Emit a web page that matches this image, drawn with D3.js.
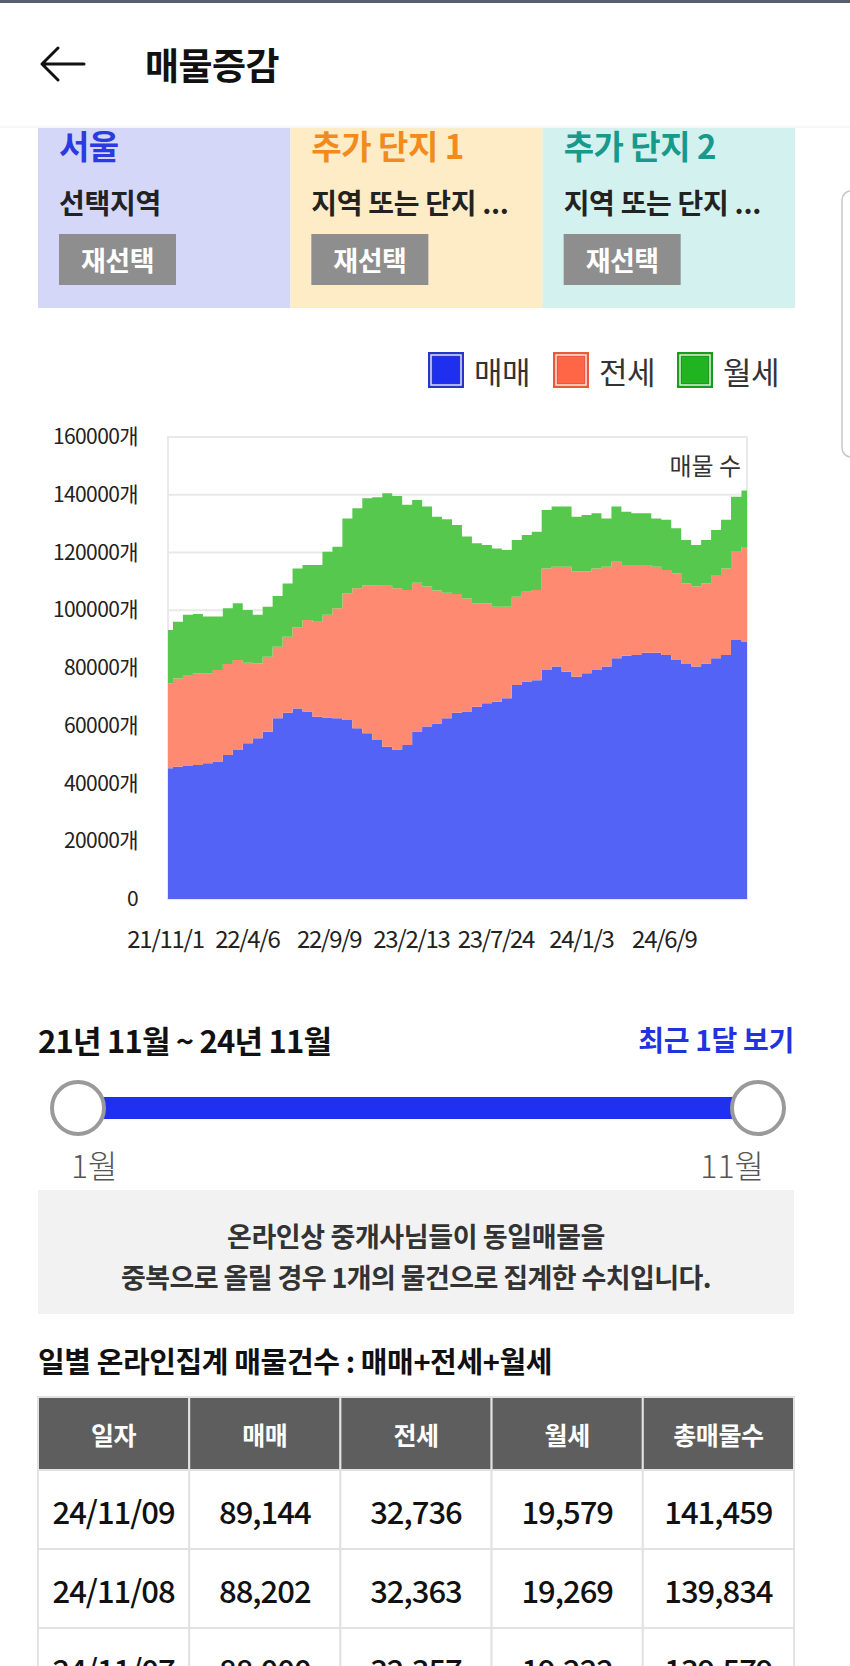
<!DOCTYPE html>
<html><head><meta charset="utf-8">
<script src="https://cdn.jsdelivr.net/npm/d3@7"></script>
<style>
html,body{margin:0;padding:0;background:#fff;overflow:hidden;}
svg{display:block;font-family:"Noto Sans CJK KR","Noto Sans",sans-serif;}
</style></head><body>
<svg id="page" width="850" height="1666"></svg>
<script>
// ---------- DATA ----------
const sampleDates = ["2021-11-01","2021-11-20","2021-12-09","2021-12-28","2022-01-16","2022-02-04","2022-02-23","2022-03-14","2022-04-02","2022-04-21",
"2022-05-10","2022-05-29","2022-06-17","2022-07-06","2022-07-25","2022-08-13","2022-09-01","2022-09-20","2022-10-09","2022-10-28",
"2022-11-16","2022-12-05","2022-12-24","2023-01-12","2023-01-31","2023-02-19","2023-03-10","2023-03-29","2023-04-17","2023-05-06",
"2023-05-25","2023-06-13","2023-07-02","2023-07-21","2023-08-09","2023-08-28","2023-09-16","2023-10-05","2023-10-24","2023-11-12",
"2023-12-01","2023-12-20","2024-01-08","2024-01-27","2024-02-15","2024-03-05","2024-03-24","2024-04-12","2024-05-01","2024-05-20",
"2024-06-08","2024-06-27","2024-07-16","2024-08-04","2024-08-23","2024-09-11","2024-09-30","2024-10-19","2024-11-09"];
const sale = [45300,45800,46100,46400,47000,47600,49900,51600,53900,55700,
57900,62600,64500,66000,64900,63100,62900,62600,62000,59100,
57400,55100,52700,51800,53300,58000,59700,60800,62600,64500,
64900,66600,67800,68300,69500,74100,75300,75800,79300,80500,
78700,77000,78200,79300,80500,83400,84200,84500,85300,85300,
84500,82800,81400,80500,81600,83400,84500,89700,89144];
const jeonse = [29400,30600,31500,31800,31200,31700,31500,31200,27900,25900,
26000,24800,26300,28100,31700,32900,35500,38100,43900,48500,
51300,53600,55800,55800,53700,51500,48500,46000,43500,41100,
39200,35800,34600,32900,31700,30600,31100,31200,35200,34600,
36400,36400,35200,35200,34600,33400,31500,31200,30400,29800,
29400,30000,27900,27700,27700,28800,30000,30600,32736];
const monthly = [18500,19600,20800,20500,19600,18500,19300,19600,18300,16800,
17300,17500,18500,20400,19100,19700,21900,21300,25900,27700,
30100,30400,32000,32000,29500,28700,27700,25600,25400,23900,
21400,20800,20200,20200,19700,19600,19700,20200,20200,20800,
20800,19000,19600,19100,16700,19100,18400,17900,17900,16700,
17400,15600,15000,14400,15000,15600,16800,19000,19579];
const seriesNames = ["매매","전세","월세"];
const yTicks = [0,20000,40000,60000,80000,100000,120000,140000,160000];
const xTickLabels = ["21/11/1","22/4/6","22/9/9","23/2/13","23/7/24","24/1/3","24/6/9"];
const regionTitles = ["서울","추가 단지 1","추가 단지 2"];
const regionSubs = ["선택지역","지역 또는 단지 ...","지역 또는 단지 ..."];
const tableHeaders = ["일자","매매","전세","월세","총매물수"];
const tableDates = ["24/11/09","24/11/08","24/11/07"];
const tableSale = [89144,88202,88000];
const tableJeonse = [32736,32363,32357];
const tableMonthly = [19579,19269,19222];

// ---------- STYLE ----------
const areaColors = ["#5263f6","#fd8a71","#56c84d"];
const legendColors = ["#1f2ff0","#ff6645","#20b420"];
const legendBorders = ["#2636c8","#e85a3c","#1c9c1c"];
const panelFills = ["#d5d7f9","#fdecc6","#d3f1ee"];
const panelTitleColors = ["#2b3be0","#f28b1e","#17998c"];

const svg = d3.select("#page");

// top status line
svg.append("rect").attr("x",0).attr("y",0).attr("width",850).attr("height",3).attr("fill","#56606e");

// header
svg.append("path").attr("d","M42,64 H84 M58,48 L42,64 L58,80")
  .attr("fill","none").attr("stroke","#111").attr("stroke-width",3).attr("stroke-linecap","round").attr("stroke-linejoin","round");
svg.append("text").attr("x",145).attr("y",64).attr("dominant-baseline","central")
  .attr("font-size",37).attr("font-weight",700).attr("letter-spacing","-0.5px").attr("fill","#111").text("매물증감");

// region panels
const panelX = d3.scaleBand().domain(d3.range(3)).range([38,795]);
const panels = svg.append("g");
regionTitles.forEach((t,i)=>{
  const x0 = panelX(i);
  panels.append("rect").attr("x",x0).attr("y",128).attr("width",panelX.bandwidth()).attr("height",180).attr("fill",panelFills[i]);
  panels.append("text").attr("x",x0+21).attr("y",145).attr("dominant-baseline","central")
    .attr("font-size",33).attr("font-weight",700).attr("letter-spacing","-0.5px").attr("fill",panelTitleColors[i]).text(t);
  panels.append("text").attr("x",x0+21).attr("y",202).attr("dominant-baseline","central")
    .attr("font-size",28).attr("font-weight",700).attr("letter-spacing","-0.3px").attr("fill","#222").text(regionSubs[i]);
  panels.append("rect").attr("x",x0+21).attr("y",234).attr("width",117).attr("height",51).attr("fill","#8e8e8e");
  panels.append("text").attr("x",x0+21+58.5).attr("y",259).attr("dominant-baseline","central").attr("text-anchor","middle")
    .attr("font-size",27).attr("font-weight",700).attr("letter-spacing","-0.5px").attr("fill","#fff").text("재선택");
});
svg.append("line").attr("x1",0).attr("x2",850).attr("y1",127).attr("y2",127).attr("stroke","#efefef").attr("stroke-width",1);

// scroll handle at right edge
svg.append("rect").attr("x",842).attr("y",191).attr("width",30).attr("height",266).attr("rx",9)
  .attr("fill","#fff").attr("stroke","#c8c8c8").attr("stroke-width",1.5);

// ---------- CHART ----------
const plot = {l:168, r:747, t:437, b:899};
const parse = d3.timeParse("%Y-%m-%d");
const rows = sampleDates.map((d,i)=>({date:parse(d), "매매":sale[i], "전세":jeonse[i], "월세":monthly[i]}));
const x = d3.scaleTime().domain(d3.extent(rows,d=>d.date)).range([plot.l,plot.r]);
const y = d3.scaleLinear().domain([0,160000]).range([plot.b,plot.t]);

const chart = svg.append("g");
chart.append("g").selectAll("line").data(yTicks).join("line")
  .attr("x1",plot.l).attr("x2",plot.r).attr("y1",d=>y(d)).attr("y2",d=>y(d))
  .attr("stroke","#e9e9e9").attr("stroke-width",2);
chart.append("rect").attr("x",plot.l).attr("y",plot.t).attr("width",plot.r-plot.l).attr("height",plot.b-plot.t)
  .attr("fill","none").attr("stroke","#e9e9e9").attr("stroke-width",2);

const stack = d3.stack().keys(seriesNames);
const layers = stack(rows);
const area = d3.area().x(d=>x(d.data.date)).y0(d=>y(d[0])).y1(d=>y(d[1])).curve(d3.curveStep);
chart.append("g").selectAll("path").data(layers).join("path")
  .attr("d",area).attr("fill",(d,i)=>areaColors[i]);

// y axis
const yAxis = chart.append("g").attr("transform",`translate(${plot.l},0)`)
  .call(d3.axisLeft(y).tickValues(yTicks).tickSize(0).tickPadding(30).tickFormat(d=>d===0?"0":d+"개"));
yAxis.select(".domain").remove();
yAxis.selectAll("text").attr("font-family","'Noto Sans CJK KR',sans-serif").attr("font-size",21)
  .attr("letter-spacing","-0.6px").attr("fill","#222");

// x axis
const xTickDates = xTickLabels.map(s=>d3.timeParse("%y/%m/%d")(s));
const xAxis = chart.append("g").attr("transform",`translate(0,${plot.b})`)
  .call(d3.axisBottom(x).tickValues(xTickDates).tickSize(0).tickFormat((d,i)=>xTickLabels[i]));
xAxis.select(".domain").remove();
xAxis.selectAll("text").attr("font-family","'Noto Sans CJK KR',sans-serif").attr("font-size",24)
  .attr("letter-spacing","-1.3px").attr("fill","#222").attr("y",41).attr("dy","0.35em").attr("x",-3);

// chart title inside plot
chart.append("text").attr("x",741).attr("y",464).attr("text-anchor","end").attr("dominant-baseline","central")
  .attr("font-size",24).attr("fill","#333").text("매물 수");

// legend
const legendX = [428,553,677];
const legend = svg.append("g");
seriesNames.forEach((n,i)=>{
  legend.append("rect").attr("x",legendX[i]).attr("y",352).attr("width",36).attr("height",36).attr("fill",legendBorders[i]);
  legend.append("rect").attr("x",legendX[i]+3).attr("y",355).attr("width",30).attr("height",30).attr("fill","none")
    .attr("stroke","#fff").attr("stroke-opacity",0.85).attr("stroke-width",1.5);
  legend.append("rect").attr("x",legendX[i]+5).attr("y",357).attr("width",26).attr("height",26).attr("fill",legendColors[i]);
  legend.append("text").attr("x",legendX[i]+46).attr("y",370).attr("dominant-baseline","central")
    .attr("font-size",31).attr("letter-spacing","-0.5px").attr("fill","#333").text(n);
});

// ---------- RANGE SLIDER ----------
svg.append("text").attr("x",38).attr("y",1039).attr("dominant-baseline","central")
  .attr("font-size",31).attr("font-weight",700).attr("letter-spacing","-0.8px").attr("fill","#111").text("21년 11월 ~ 24년 11월");
svg.append("text").attr("x",794).attr("y",1039).attr("dominant-baseline","central").attr("text-anchor","end")
  .attr("font-size",28).attr("font-weight",700).attr("letter-spacing","-0.3px").attr("fill","#2233dd").text("최근 1달 보기");
svg.append("rect").attr("x",78).attr("y",1097).attr("width",680).attr("height",22).attr("fill","#1f30f0");
[78,758].forEach(cx=>{
  svg.append("circle").attr("cx",cx).attr("cy",1108).attr("r",26).attr("fill","#fff").attr("stroke","#9a9a9a").attr("stroke-width",4);
});
svg.append("text").attr("x",71).attr("y",1164).attr("dominant-baseline","central")
  .attr("font-size",32).attr("font-weight",300).attr("fill","#555").text("1월");
svg.append("text").attr("x",764).attr("y",1164).attr("dominant-baseline","central").attr("text-anchor","end")
  .attr("font-size",32).attr("font-weight",300).attr("fill","#555").text("11월");

// notice box
svg.append("rect").attr("x",38).attr("y",1190).attr("width",756).attr("height",124).attr("fill","#f2f2f2");
svg.append("text").attr("x",416).attr("y",1235).attr("text-anchor","middle").attr("dominant-baseline","central")
  .attr("font-size",27).attr("font-weight",700).attr("letter-spacing","-0.4px").attr("fill","#333").text("온라인상 중개사님들이 동일매물을");
svg.append("text").attr("x",416).attr("y",1276).attr("text-anchor","middle").attr("dominant-baseline","central")
  .attr("font-size",27).attr("font-weight",700).attr("letter-spacing","-0.6px").attr("fill","#333").text("중복으로 올릴 경우 1개의 물건으로 집계한 수치입니다.");

// table heading
svg.append("text").attr("x",38).attr("y",1360).attr("dominant-baseline","central")
  .attr("font-size",29).attr("font-weight",700).attr("letter-spacing","-0.4px").attr("fill","#111").text("일별 온라인집계 매물건수 : 매매+전세+월세");

// ---------- TABLE ----------
const colX = d3.scaleBand().domain(d3.range(5)).range([38,794]);
const fmt = d3.format(",");
const tbl = svg.append("g");
tableHeaders.forEach((h,j)=>{
  tbl.append("rect").attr("x",colX(j)).attr("y",1397).attr("width",colX.bandwidth()).attr("height",73)
    .attr("fill","#5e5e5e").attr("stroke","#e2e2e2").attr("stroke-width",2);
  tbl.append("text").attr("x",colX(j)+colX.bandwidth()/2).attr("y",1434).attr("text-anchor","middle").attr("dominant-baseline","central")
    .attr("font-size",25).attr("font-weight",700).attr("letter-spacing","-0.4px").attr("fill","#fff").text(h);
});
tableDates.forEach((d,i)=>{
  const vals = [d, fmt(tableSale[i]), fmt(tableJeonse[i]), fmt(tableMonthly[i]), fmt(tableSale[i]+tableJeonse[i]+tableMonthly[i])];
  const y0 = 1470 + i*79;
  vals.forEach((v,j)=>{
    tbl.append("rect").attr("x",colX(j)).attr("y",y0).attr("width",colX.bandwidth()).attr("height",79)
      .attr("fill","#fff").attr("stroke","#e2e2e2").attr("stroke-width",2);
    tbl.append("text").attr("x",colX(j)+colX.bandwidth()/2).attr("y",y0+40).attr("text-anchor","middle").attr("dominant-baseline","central")
      .attr("font-size",31).attr("font-weight",500).attr("letter-spacing","-1px").attr("fill","#111").text(v);
  });
});
</script>
</body></html>
